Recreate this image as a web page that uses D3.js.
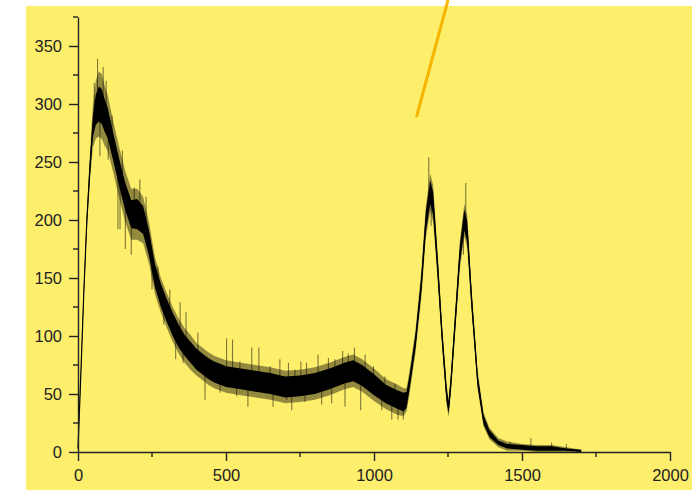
<!DOCTYPE html>
<html>
<head>
<meta charset="utf-8">
<script src="https://cdn.jsdelivr.net/npm/d3@7"></script>
<style>
body{margin:0;background:#fff;}
svg{display:block;}
.axis text{font-family:"Liberation Sans",Arial,sans-serif;font-size:16.5px;fill:#222;}
.axis path,.axis line{stroke:#222;stroke-width:1.4;}
</style>
</head>
<body>
<svg></svg>
<script>
//spectrum: channel, counts, core noise half width, faint noise half width
var channels = [0,10,20,30,40,50,60,70,80,90,100,120,140,160,180,200,220,240,260,280,300,320,340,360,380,400,420,440,460,480,500,550,600,650,700,750,800,850,900,930,960,1000,1040,1080,1100,1110,1120,1140,1160,1175,1190,1200,1215,1230,1245,1252,1260,1275,1290,1305,1315,1330,1350,1370,1390,1420,1450,1500,1550,1600,1650,1700];
var counts   = [3,70,140,200,244,280,295,300,298,290,284,262,240,220,205,205,200,180,152,135,122,110,100,92,86,80,76,72,69,67,65,63,61,59,56,57,59,63,68,70,66,58,50,45,43,45,60,95,145,198,224,214,160,100,50,38,60,115,170,200,190,130,62,28,16,8,5,4,3,3,2,1];
var noise    = [1,2,3,4,6,9,13,15,15,14,13,12,12,12,12,13,12,11,10,10,10,10,10,9,9,9,9,9,9,9,9,9,9,9,9,9,9,9,9,9,9,9,8,8,8,7,6,6,7,9,10,10,8,7,6,5,6,7,8,9,9,7,5,4,3,2,2,2,2,2,1,1];
var spread   = [1,3,5,8,12,18,25,28,28,26,24,22,22,22,22,22,20,18,16,15,15,15,15,15,15,14,14,14,14,14,14,14,14,14,14,14,14,14,14,14,14,14,13,13,12,10,10,10,12,14,16,16,12,10,9,8,9,10,12,14,14,10,8,6,5,4,4,3,3,3,2,1];

//isolated spikes seen in the noise
var spikeCh  = [55,66,74,85,95,102,115,135,142,150,160,180,190,209,230,250,270,290,310,330,345,355,365,378,405,421,429,480,502,522,536,547,574,587,611,649,659,682,705,711,722,733,753,767,772,811,823,846,857,868,894,902,913,934,955,970,998,1026,1037,1060,1071,1081,1099,1185,1193,1302,1310,1460,1530,1600,1650];
var spikeVal = [318,339,255,332,320,252,290,192,192,260,175,170,228,235,220,140,160,110,140,80,129,77,121,91,103,85,45,51,98,97,48,78,39,90,90,74,39,80,45,77,36,71,78,43,77,84,41,81,42,80,87,39,85,90,36,84,74,36,65,28,59,28,28,254,195,170,232,9,12,8,7];

var xTicks = [0,500,1000,1500,2000];
var xMinor = [250,750,1250,1750];
var yTicks = [0,50,100,150,200,250,300,350];
var yMinor = [25,75,125,175,225,275,325,375];

var drawFrame = function(svg,screen)
{
    svg.append("rect")
    .attr("x",26)
    .attr("y",6)
    .attr("width",screen.width-26)
    .attr("height",screen.height-6)
    .attr("fill","#fdee6c");
}

var drawAxes = function(svg,xScale,yScale)
{
    var xAxis = d3.axisBottom(xScale)
        .tickValues(xTicks)
        .tickSize(9)
        .tickSizeOuter(0)
        .tickPadding(8)
        .tickFormat(d3.format("d"));
    var yAxis = d3.axisLeft(yScale)
        .tickValues(yTicks)
        .tickSize(9)
        .tickSizeOuter(0)
        .tickPadding(7)
        .tickFormat(d3.format("d"));

    var gx = svg.append("g")
    .classed("axis",true)
    .attr("transform","translate(0,"+yScale(0)+")")
    .call(xAxis);
    gx.selectAll(".minor")
    .data(xMinor)
    .enter()
    .append("line")
    .attr("x1",function(d){return xScale(d);})
    .attr("x2",function(d){return xScale(d);})
    .attr("y1",0)
    .attr("y2",5);

    var gy = svg.append("g")
    .classed("axis",true)
    .attr("transform","translate("+xScale(0)+",0)")
    .call(yAxis);
    gy.selectAll(".minor")
    .data(yMinor)
    .enter()
    .append("line")
    .attr("y1",function(d){return yScale(d);})
    .attr("y2",function(d){return yScale(d);})
    .attr("x1",0)
    .attr("x2",-5);
}

var drawSpectrum = function(svg,xScale,yScale)
{
    var pts = channels.map(function(c,i){
        return {ch:c,v:counts[i],n:noise[i],s:spread[i]};
    });

    var outer = d3.area()
        .x(function(d){return xScale(d.ch);})
        .y0(function(d){return yScale(Math.max(0,d.v-d.s));})
        .y1(function(d){return yScale(d.v+d.s);});
    var core = d3.area()
        .x(function(d){return xScale(d.ch);})
        .y0(function(d){return yScale(Math.max(0,d.v-d.n));})
        .y1(function(d){return yScale(d.v+d.n);});
    var line = d3.line()
        .x(function(d){return xScale(d.ch);})
        .y(function(d){return yScale(d.v);});

    svg.append("path")
    .attr("d",outer(pts))
    .attr("fill","#000")
    .attr("fill-opacity",0.42);

    svg.append("path")
    .attr("d",core(pts))
    .attr("fill","#000");

    svg.append("path")
    .attr("d",line(pts))
    .attr("fill","none")
    .attr("stroke","#000")
    .attr("stroke-width",1.2);

    //spikes start from the trace at their channel
    var base = d3.scaleLinear().domain(channels).range(counts);
    svg.selectAll(".spike")
    .data(spikeCh)
    .enter()
    .append("line")
    .attr("x1",function(d){return xScale(d);})
    .attr("x2",function(d){return xScale(d);})
    .attr("y1",function(d){return yScale(base(d));})
    .attr("y2",function(d,i){return yScale(spikeVal[i]);})
    .attr("stroke","#000")
    .attr("stroke-opacity",0.5)
    .attr("stroke-width",1.1);
}

var initGraph = function()
{
    var screen = {width:692,height:490};
    var svg = d3.select("svg")
    .attr("width",screen.width)
    .attr("height",screen.height);

    var xScale = d3.scaleLinear().domain([0,2000]).range([78,670]);
    var yScale = d3.scaleLinear().domain([0,375]).range([452,17]);

    drawFrame(svg,screen);
    drawSpectrum(svg,xScale,yScale);
    drawAxes(svg,xScale,yScale);

    //orange pointer line
    svg.append("line")
    .attr("x1",448)
    .attr("y1",0)
    .attr("x2",416.5)
    .attr("y2",117)
    .attr("stroke","#f7b500")
    .attr("stroke-width",3);
}

initGraph();
</script>
</body>
</html>
